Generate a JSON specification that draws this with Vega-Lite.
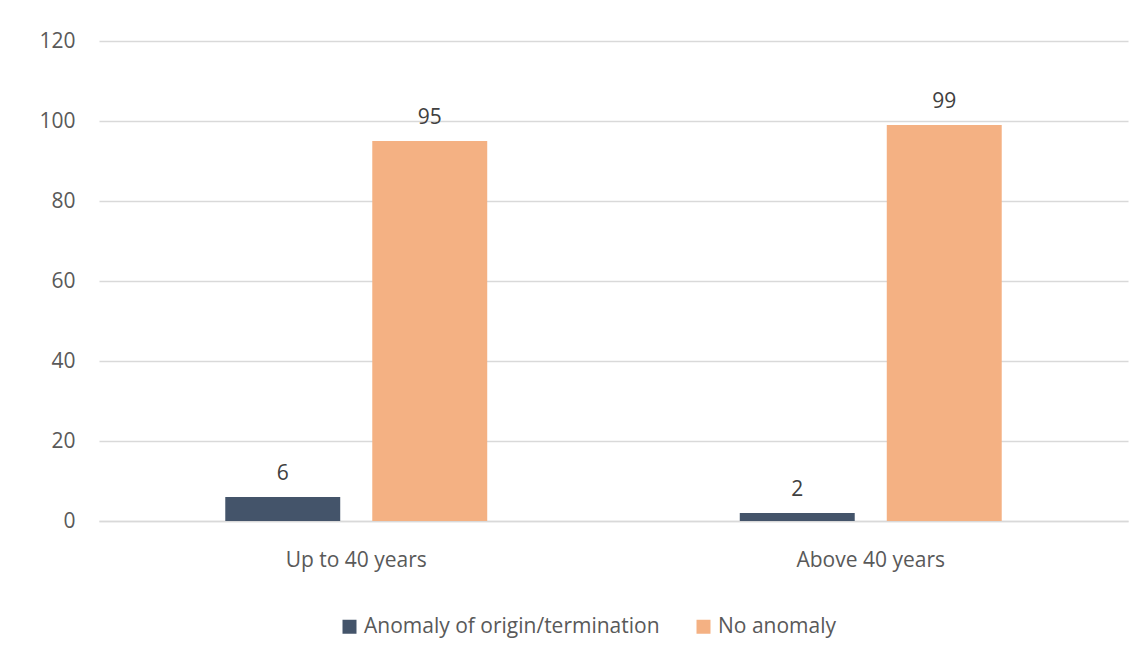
{
  "$schema": "https://vega.github.io/schema/vega-lite/v6.json",
  "width": 1029,
  "height": 480,
  "autosize": {"type": "none"},
  "padding": {"left": 99, "top": 41, "right": 16, "bottom": 136},
  "background": "white",
  "config": {
    "view": {"stroke": null},
    "font": "Open Sans",
    "axis": {"labelFont": "Open Sans", "labelColor": "#595959", "labelFontSize": 21},
    "legend": {"labelFont": "Open Sans"},
    "text": {"font": "Open Sans"}
  },
  "data": {
    "values": [
      {"group": "Up to 40 years", "series": "Anomaly of origin/termination", "value": 6},
      {"group": "Up to 40 years", "series": "No anomaly", "value": 95},
      {"group": "Above 40 years", "series": "Anomaly of origin/termination", "value": 2},
      {"group": "Above 40 years", "series": "No anomaly", "value": 99}
    ]
  },
  "encoding": {
    "x": {
      "field": "group", "type": "nominal", "sort": ["Up to 40 years", "Above 40 years"],
      "scale": {"paddingInner": 0, "paddingOuter": 0},
      "axis": {"title": null, "labelAngle": 0, "ticks": false, "domain": true, "domainColor": "#d9d9d9", "domainWidth": 1.5, "labelPadding": 28, "labelFontSize": 21, "labelColor": "#595959"}
    },
    "xOffset": {
      "field": "series", "type": "nominal", "sort": ["Anomaly of origin/termination", "No anomaly"],
      "scale": {"paddingInner": 0.218, "paddingOuter": 0.859}
    },
    "y": {
      "field": "value", "type": "quantitative",
      "scale": {"domain": [0, 120]},
      "axis": {"title": null, "values": [0, 20, 40, 60, 80, 100, 120], "domain": false, "ticks": false, "grid": true, "gridColor": "#d9d9d9", "gridWidth": 1.5, "labelPadding": 24, "labelFontSize": 21, "labelColor": "#595959"}
    }
  },
  "layer": [
    {
      "mark": {"type": "bar"},
      "encoding": {
        "color": {
          "field": "series", "type": "nominal",
          "sort": ["Anomaly of origin/termination", "No anomaly"],
          "scale": {"domain": ["Anomaly of origin/termination", "No anomaly"], "range": ["#44546A", "#F4B183"]},
          "legend": {
            "title": null, "orient": "none", "direction": "horizontal",
            "legendX": 240, "legendY": 575,
            "symbolType": "square", "symbolSize": 196, "symbolStrokeWidth": 0,
            "labelFontSize": 21, "labelColor": "#595959", "columnPadding": 33, "labelOffset": 4, "labelLimit": 0
          }
        }
      }
    },
    {
      "mark": {"type": "text", "baseline": "bottom", "dy": -13, "fontSize": 21, "color": "#404040", "font": "Open Sans"},
      "encoding": {"text": {"field": "value", "type": "quantitative"}}
    }
  ]
}
